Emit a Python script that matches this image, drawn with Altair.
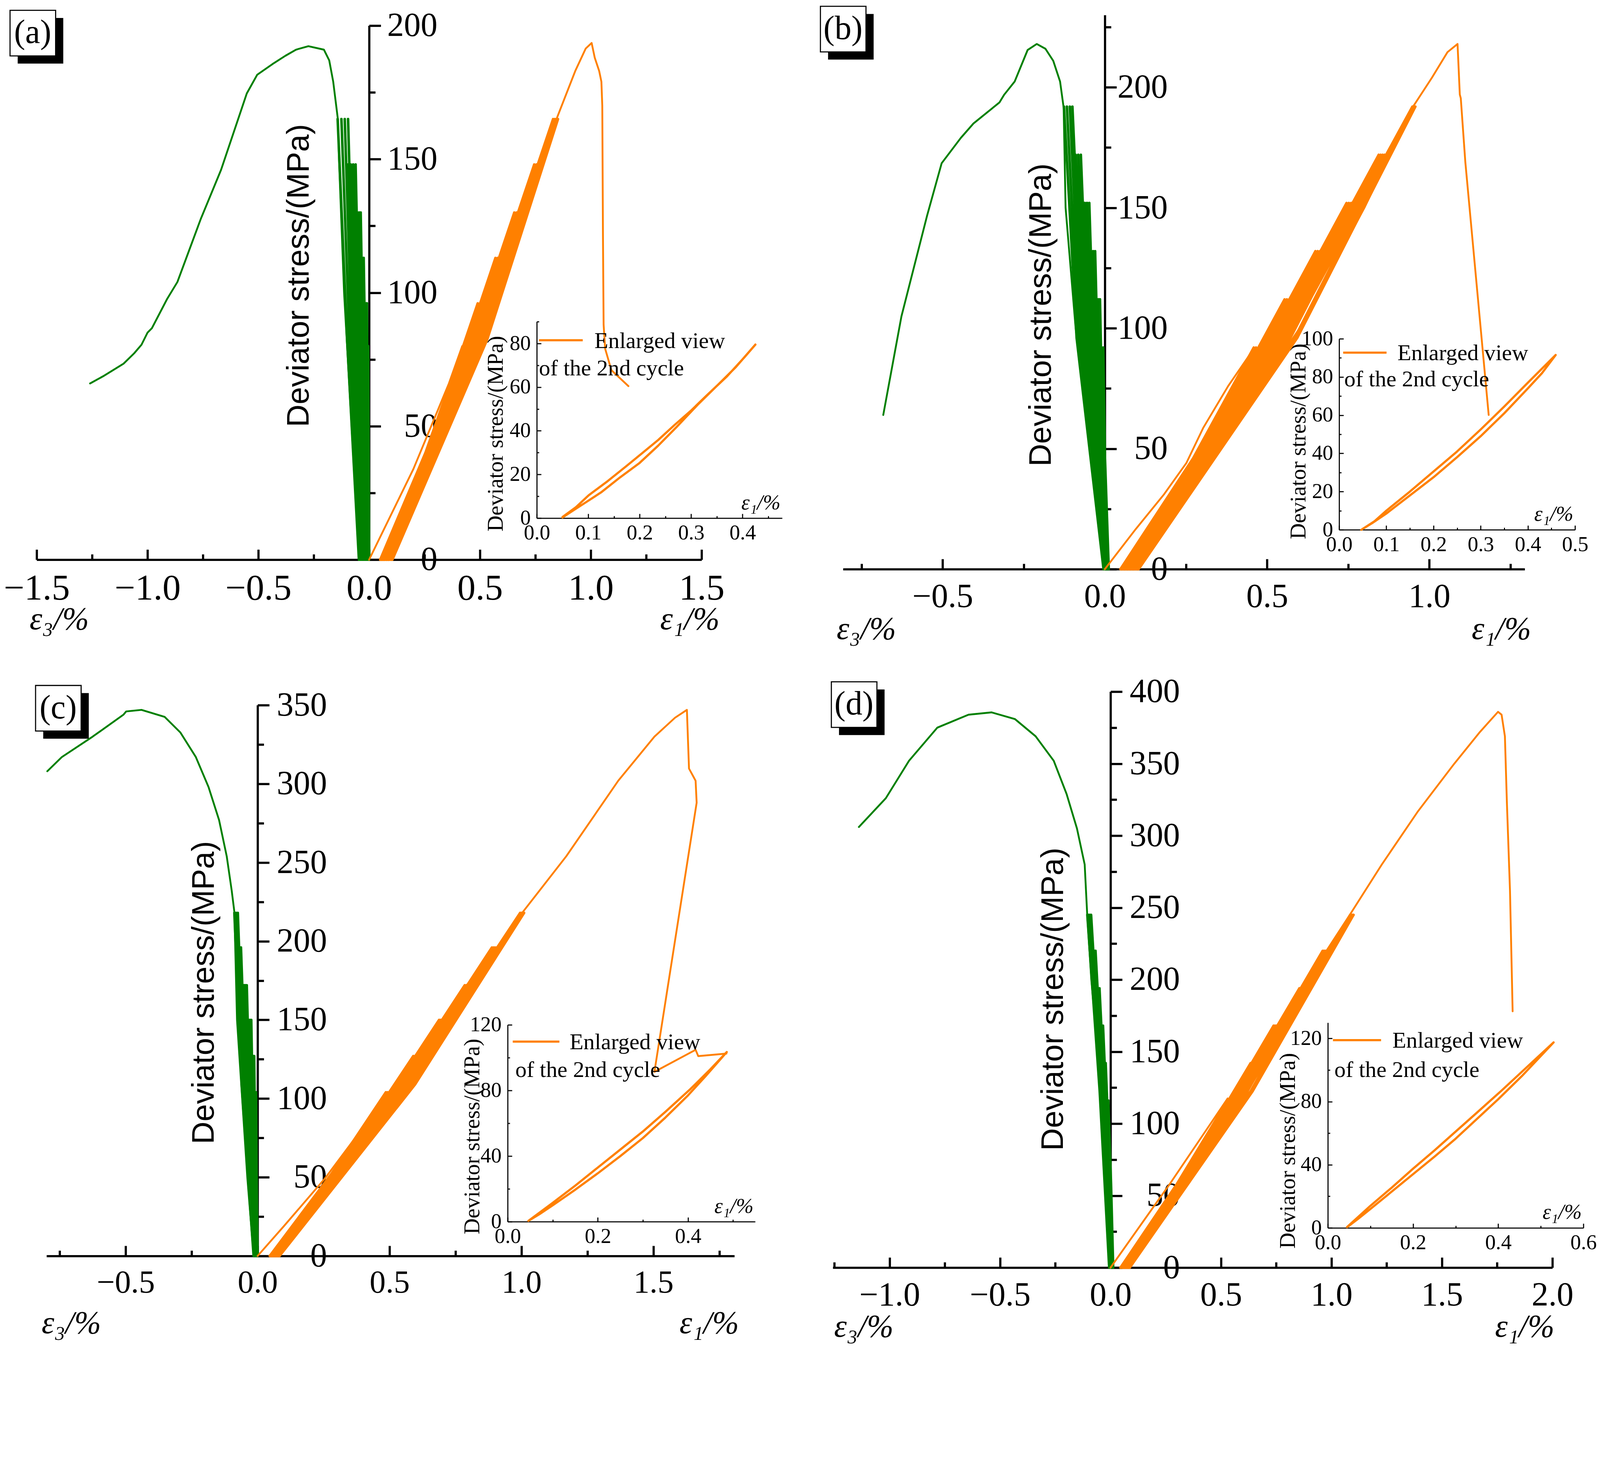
import altair as alt
import pandas as pd

ORANGE = "#FF8000"
GREEN = "#008000"
SERIF = "Liberation Serif"
SANS = "Liberation Sans"
W, H, M = 4372, 3570, 8
YSHIFT = -138  # compensation for the vertical offset observed in the rendered page

# ======================= DATA =======================
# Each cyclic band: per cycle the stage stress S, valley strain V (start), loading mid-point LM,
# peak strain P and unloading mid-point UM (green: one mid-point M).
# ---------- panel (a) ----------
A_S = [80, 80, 80, 80, 96, 96, 96, 96, 113, 113, 113, 113, 130, 130, 130, 130,
       148, 148, 148, 148, 165, 165, 165, 165]
A_O_FIRST_X = [0.0, 0.1, 0.2, 0.29, 0.36, 0.42, 0.266, 0.05]
A_O_FIRST_Y = [0, 17, 34, 52, 66, 80, 40, 0]
A_O_V = [0.050, 0.052, 0.054, 0.056, 0.058, 0.060, 0.062, 0.064, 0.066, 0.068, 0.070, 0.072,
         0.075, 0.077, 0.079, 0.081, 0.084, 0.086, 0.088, 0.090, 0.094, 0.097, 0.100, 0.102]
A_O_P = [0.425, 0.435, 0.445, 0.455, 0.490, 0.500, 0.510, 0.520, 0.570, 0.580, 0.590, 0.600,
         0.655, 0.665, 0.675, 0.685, 0.745, 0.755, 0.765, 0.775, 0.830, 0.838, 0.845, 0.852]
A_O_LM = [0.254, 0.261, 0.267, 0.274, 0.293, 0.300, 0.306, 0.313, 0.341, 0.347, 0.353, 0.360,
          0.391, 0.398, 0.404, 0.410, 0.444, 0.451, 0.457, 0.463, 0.495, 0.501, 0.506, 0.511]
A_O_UM = [0.266, 0.272, 0.279, 0.285, 0.306, 0.313, 0.320, 0.326, 0.356, 0.362, 0.369, 0.376,
          0.409, 0.415, 0.422, 0.428, 0.464, 0.471, 0.477, 0.484, 0.517, 0.523, 0.528, 0.533]
A_O_FINAL_X = [0.105, 0.30, 0.52, 0.70, 0.85, 0.93, 0.977, 1.004, 1.018, 1.038, 1.048, 1.052,
               1.055, 1.058, 1.065, 1.093, 1.17]
A_O_FINAL_Y = [0, 40, 85, 130, 166, 183, 191.4, 193.5, 188, 183, 179, 170, 122, 88, 79, 71, 65]
A_G_V = [0.0, -0.001, -0.002, -0.003, -0.003, -0.004, -0.005, -0.006, -0.001, -0.004, -0.007, -0.010,
         -0.008, -0.012, -0.016, -0.020, -0.018, -0.024, -0.030, -0.035, -0.033, -0.038, -0.042, -0.045]
A_G_P = [-0.004, -0.007, -0.010, -0.013, -0.010, -0.013, -0.016, -0.020, -0.0245, -0.029, -0.033, -0.038,
         -0.038, -0.045, -0.053, -0.061, -0.061, -0.072, -0.083, -0.095, -0.095, -0.110, -0.125, -0.142]
A_G_M = [-0.0022, -0.0044, -0.0065, -0.0086, -0.0069, -0.009, -0.0112, -0.0138, -0.0142, -0.018,
         -0.0216, -0.0257, -0.0248, -0.0305, -0.0367, -0.043, -0.0421, -0.0509, -0.0597, -0.0686,
         -0.0677, -0.0783, -0.0885, -0.0993]
A_G_FINAL_X = [-0.046, -0.079, -0.113, -0.136, -0.141, -0.162, -0.18, -0.204, -0.274, -0.33, -0.378,
               -0.436, -0.505, -0.552, -0.668, -0.76, -0.865, -0.911, -0.98, -1.0, -1.027, -1.06,
               -1.108, -1.2, -1.259]
A_G_FINAL_Y = [0, 50, 100, 150, 165, 179, 187, 191, 192.3, 191, 188.7, 185.6, 181.6, 174.6, 146,
               127.5, 104, 97.7, 86.7, 85, 80.5, 77.3, 73.4, 68.7, 66]
A_IN_X = [0.05, 0.076, 0.101, 0.138, 0.174, 0.203, 0.236, 0.268, 0.301, 0.329, 0.37, 0.403, 0.425,
          0.387, 0.354, 0.313, 0.272, 0.236, 0.199, 0.162, 0.125, 0.097, 0.072, 0.05]
A_IN_Y = [0.5, 5, 10.5, 17, 23.8, 29.4, 35.8, 42.7, 49.5, 55.9, 65, 73.5, 79.5,
          69.2, 61.5, 52, 41.8, 33.2, 25.1, 18.7, 11.8, 7.5, 3.7, 0.3]

# ---------- panel (b) ----------
B_S = [92, 92, 92, 92, 112, 112, 112, 112, 132, 132, 132, 132, 152, 152, 152, 152,
       172, 172, 172, 172, 192, 192, 192, 192]
B_O_FIRST_X = [0.0, 0.095, 0.182, 0.251, 0.303, 0.38, 0.459, 0.284, 0.048]
B_O_FIRST_Y = [0, 16.6, 31, 44, 58.6, 76, 91.5, 46, 0]
B_O_V = [0.048, 0.050, 0.052, 0.054, 0.057, 0.059, 0.061, 0.063, 0.066, 0.068, 0.070, 0.072,
         0.075, 0.077, 0.079, 0.081, 0.084, 0.086, 0.088, 0.090, 0.093, 0.096, 0.099, 0.101]
B_O_P = [0.459, 0.466, 0.473, 0.480, 0.554, 0.561, 0.568, 0.575, 0.649, 0.656, 0.663, 0.670,
         0.745, 0.752, 0.759, 0.766, 0.844, 0.850, 0.856, 0.862, 0.948, 0.951, 0.954, 0.957]
B_O_LM = [0.272, 0.277, 0.281, 0.286, 0.328, 0.333, 0.337, 0.342, 0.384, 0.389, 0.393, 0.398,
          0.440, 0.445, 0.450, 0.454, 0.498, 0.502, 0.507, 0.511, 0.559, 0.562, 0.565, 0.568]
B_O_UM = [0.284, 0.289, 0.294, 0.299, 0.343, 0.348, 0.353, 0.357, 0.401, 0.406, 0.411, 0.416,
          0.460, 0.465, 0.470, 0.475, 0.521, 0.525, 0.530, 0.534, 0.585, 0.588, 0.591, 0.593]
B_O_FINAL_X = [0.104, 0.35, 0.60, 0.80, 0.948, 1.008, 1.056, 1.087, 1.094, 1.097, 1.111, 1.183]
B_O_FINAL_Y = [0, 50, 100, 150, 191.6, 204, 214.6, 218, 197, 195.5, 169, 64]
B_G_V = [0.012, 0.011, 0.010, 0.009, 0.010, 0.009, 0.008, 0.007, 0.008, 0.007, 0.006, 0.005,
         0.006, 0.005, 0.004, 0.003, 0.004, 0.002, 0.000, -0.001, 0.000, -0.002, -0.003, -0.004]
B_G_P = [-0.005, -0.010, -0.015, -0.020, -0.015, -0.020, -0.025, -0.030, -0.030, -0.036, -0.042, -0.048,
         -0.048, -0.055, -0.062, -0.074, -0.074, -0.082, -0.090, -0.100, -0.100, -0.108, -0.117, -0.126]
B_G_M = [0.0004, -0.0033, -0.007, -0.0107, -0.007, -0.0107, -0.0144, -0.0182, -0.0178, -0.0222,
         -0.0266, -0.031, -0.0307, -0.0358, -0.0409, -0.0494, -0.049, -0.0551, -0.0612, -0.0683,
         -0.068, -0.0741, -0.0805, -0.087]
B_G_FINAL_X = [-0.004, -0.045, -0.09, -0.121, -0.127, -0.138, -0.159, -0.183, -0.21, -0.238, -0.278,
               -0.31, -0.325, -0.405, -0.444, -0.503, -0.548, -0.627, -0.683]
B_G_FINAL_Y = [0, 50, 100, 150, 191.6, 202.4, 211, 216, 218, 215.5, 202.4, 197, 193.7, 185, 179,
               168.5, 146.7, 104.9, 64]
B_IN_X = [0.047, 0.075, 0.1, 0.15, 0.2, 0.25, 0.3, 0.35, 0.4, 0.459,
          0.43, 0.4, 0.35, 0.3, 0.25, 0.2, 0.15, 0.1, 0.07, 0.05]
B_IN_Y = [0, 4.5, 10, 20, 30.5, 41, 52.5, 64.5, 77, 91.5,
          82, 74, 61, 49, 38, 27.5, 18, 8.5, 3.5, 0.5]

# ---------- panel (c) ----------
C_S = [104, 104, 104, 104, 127, 127, 127, 127, 150, 150, 150, 150, 172, 172, 172, 172,
       196, 196, 196, 196, 218, 218, 218, 218]
C_O_FIRST_X = [0.0, 0.1, 0.254, 0.37, 0.486, 0.29, 0.046]
C_O_FIRST_Y = [0, 19, 49, 75, 103.4, 52, 0]
C_O_V = [0.046, 0.048, 0.050, 0.052, 0.054, 0.056, 0.058, 0.060, 0.062, 0.064, 0.066, 0.068,
         0.069, 0.071, 0.073, 0.074, 0.075, 0.076, 0.077, 0.078, 0.079, 0.080, 0.081, 0.082]
C_O_P = [0.486, 0.492, 0.498, 0.504, 0.590, 0.596, 0.602, 0.608, 0.688, 0.694, 0.700, 0.706,
         0.785, 0.791, 0.797, 0.803, 0.888, 0.894, 0.900, 0.906, 0.995, 1.000, 1.005, 1.010]
C_O_LM = [0.279, 0.283, 0.287, 0.292, 0.338, 0.342, 0.346, 0.350, 0.394, 0.398, 0.402, 0.406,
          0.449, 0.453, 0.457, 0.460, 0.506, 0.510, 0.513, 0.517, 0.565, 0.568, 0.571, 0.574]
C_O_UM = [0.290, 0.294, 0.299, 0.303, 0.352, 0.356, 0.360, 0.364, 0.409, 0.414, 0.418, 0.422,
          0.466, 0.471, 0.475, 0.479, 0.526, 0.530, 0.534, 0.538, 0.587, 0.591, 0.594, 0.597]
C_O_FINAL_X = [0.083, 0.30, 0.55, 0.78, 1.005, 1.17, 1.367, 1.504, 1.582, 1.627, 1.635, 1.66,
               1.664, 1.504, 1.66, 1.67, 1.777]
C_O_FINAL_Y = [0, 50, 108, 165, 218.5, 254, 302, 330, 342, 347, 309.7, 302, 288, 117, 131, 127, 128.6]
C_G_V = [0.0, -0.001, -0.001, -0.002, -0.002, -0.003, -0.003, -0.004, -0.004, -0.005, -0.006, -0.007,
         -0.007, -0.008, -0.009, -0.010, -0.010, -0.011, -0.012, -0.013, -0.013, -0.014, -0.014, -0.015]
C_G_P = [-0.006, -0.008, -0.010, -0.012, -0.013, -0.016, -0.019, -0.022, -0.024, -0.028, -0.032, -0.036,
         -0.041, -0.046, -0.051, -0.056, -0.063, -0.067, -0.071, -0.075, -0.075, -0.080, -0.084, -0.088]
C_G_M = [-0.0037, -0.0053, -0.0066, -0.0082, -0.0088, -0.0111, -0.0129, -0.0152, -0.0164, -0.0193,
         -0.0221, -0.025, -0.0281, -0.0316, -0.035, -0.0385, -0.0429, -0.0457, -0.0486, -0.0514,
         -0.0514, -0.0549, -0.0574, -0.0603]
C_G_FINAL_X = [-0.015, -0.039, -0.0585, -0.078, -0.088, -0.098, -0.117, -0.146, -0.186, -0.234,
               -0.293, -0.352, -0.44, -0.498, -0.508, -0.625, -0.742, -0.797]
C_G_FINAL_Y = [0, 50, 100, 150, 218.6, 232, 254, 277, 298, 317, 332.7, 342.5, 347, 346, 344, 330, 317, 308]
C_IN_X = [0.046, 0.1, 0.15, 0.2, 0.25, 0.3, 0.35, 0.406, 0.45, 0.486,
          0.44, 0.40, 0.35, 0.30, 0.25, 0.20, 0.15, 0.10, 0.07, 0.046]
C_IN_Y = [0.5, 11.5, 22, 33, 44, 55, 67, 81, 93, 103.4,
          89, 77, 63.5, 51, 40, 29.5, 19.5, 10, 4.5, 0.5]

# ---------- panel (d) ----------
D_S = [116, 116, 116, 116, 142, 142, 142, 142, 168, 168, 168, 168, 194, 194, 194, 194,
       220, 220, 220, 220, 245, 245, 245, 245]
D_O_FIRST_X = [0.0, 0.1, 0.2, 0.267, 0.4, 0.53, 0.312, 0.045]
D_O_FIRST_Y = [0, 21.7, 43.4, 57.8, 88, 117.5, 58, 0]
D_O_V = [0.045, 0.047, 0.049, 0.051, 0.053, 0.055, 0.057, 0.059, 0.061, 0.063, 0.065, 0.067,
         0.069, 0.071, 0.073, 0.075, 0.077, 0.078, 0.079, 0.080, 0.082, 0.083, 0.084, 0.085]
D_O_P = [0.530, 0.537, 0.544, 0.551, 0.634, 0.641, 0.648, 0.655, 0.738, 0.745, 0.752, 0.759,
         0.855, 0.861, 0.867, 0.873, 0.960, 0.966, 0.972, 0.978, 1.085, 1.090, 1.095, 1.100]
D_O_LM = [0.300, 0.304, 0.309, 0.314, 0.358, 0.363, 0.367, 0.372, 0.416, 0.421, 0.426, 0.430,
          0.482, 0.486, 0.490, 0.494, 0.541, 0.544, 0.548, 0.552, 0.609, 0.612, 0.615, 0.618]
D_O_UM = [0.312, 0.317, 0.321, 0.326, 0.373, 0.377, 0.382, 0.387, 0.433, 0.438, 0.443, 0.448,
          0.501, 0.506, 0.510, 0.514, 0.563, 0.566, 0.570, 0.574, 0.634, 0.637, 0.640, 0.643]
D_O_FINAL_X = [0.087, 0.33, 0.60, 0.85, 1.083, 1.228, 1.392, 1.556, 1.672, 1.754, 1.77, 1.785,
               1.794, 1.808, 1.82]
D_O_FINAL_Y = [0, 60, 125, 190, 245, 280, 317, 350, 372, 386, 384, 369, 323, 262, 178]
D_G_V = [0.012, 0.011, 0.010, 0.009, 0.010, 0.009, 0.008, 0.007, 0.008, 0.007, 0.006, 0.005,
         0.005, 0.004, 0.003, 0.002, 0.002, 0.001, 0.000, -0.001, -0.002, -0.003, -0.004, -0.005]
D_G_P = [-0.010, -0.014, -0.018, -0.022, -0.022, -0.026, -0.030, -0.034, -0.034, -0.039, -0.044, -0.050,
         -0.050, -0.056, -0.062, -0.068, -0.068, -0.074, -0.080, -0.087, -0.088, -0.094, -0.100, -0.105]
D_G_M = [0.0023, 0.0, -0.0023, -0.0046, -0.0041, -0.0064, -0.0087, -0.011, -0.0105, -0.0132,
         -0.016, -0.0192, -0.0192, -0.0224, -0.0256, -0.0288, -0.0288, -0.032, -0.0352, -0.0388,
         -0.0398, -0.043, -0.0462, -0.049]
D_G_FINAL_X = [-0.006, -0.017, -0.035, -0.058, -0.087, -0.105, -0.117, -0.152, -0.199, -0.257,
               -0.339, -0.433, -0.538, -0.643, -0.784, -0.912, -1.017, -1.139]
D_G_FINAL_Y = [0, 50, 100, 150, 200, 243.5, 280, 305, 329, 352, 369, 381, 385.6, 384, 375, 352, 326, 306]
D_IN_X = [0.045, 0.1, 0.15, 0.2, 0.25, 0.3, 0.35, 0.406, 0.46, 0.53,
          0.49, 0.455, 0.40, 0.35, 0.30, 0.25, 0.20, 0.15, 0.10, 0.07, 0.048]
D_IN_Y = [0.5, 14, 25.5, 37.5, 49, 61, 73, 86.5, 100, 117.5,
          106, 96, 81.5, 69, 56.5, 45, 34, 23, 12, 5.5, 1]

# ---------- tick values / labels ----------
A_XTICKS = [-1.5, -1.25, -1.0, -0.75, -0.5, -0.25, 0.0, 0.25, 0.5, 0.75, 1.0, 1.25, 1.5]
A_XLABELS = [-1.5, -1.0, -0.5, 0.0, 0.5, 1.0, 1.5]
A_YTICKS = [0, 25, 50, 75, 100, 125, 150, 175, 200]
A_YLABELS = [0, 50, 100, 150, 200]
B_XTICKS = [-0.75, -0.5, -0.25, 0.0, 0.25, 0.5, 0.75, 1.0, 1.25]
B_XLABELS = [-0.5, 0.0, 0.5, 1.0]
B_YTICKS = [0, 25, 50, 75, 100, 125, 150, 175, 200, 225]
B_YLABELS = [0, 50, 100, 150, 200]
C_XTICKS = [-0.75, -0.5, -0.25, 0.0, 0.25, 0.5, 0.75, 1.0, 1.25, 1.5, 1.75]
C_XLABELS = [-0.5, 0.0, 0.5, 1.0, 1.5]
C_YTICKS = [0, 25, 50, 75, 100, 125, 150, 175, 200, 225, 250, 275, 300, 325, 350]
C_YLABELS = [0, 50, 100, 150, 200, 250, 300, 350]
D_XTICKS = [-1.25, -1.0, -0.75, -0.5, -0.25, 0.0, 0.25, 0.5, 0.75, 1.0, 1.25, 1.5, 1.75, 2.0]
D_XLABELS = [-1.0, -0.5, 0.0, 0.5, 1.0, 1.5, 2.0]
D_YTICKS = [0, 25, 50, 75, 100, 125, 150, 175, 200, 225, 250, 275, 300, 325, 350, 375, 400]
D_YLABELS = [0, 50, 100, 150, 200, 250, 300, 350, 400]

A_IXTICKS = [0.0, 0.05, 0.1, 0.15, 0.2, 0.25, 0.3, 0.35, 0.4, 0.45]
A_IXLABELS = [0.0, 0.1, 0.2, 0.3, 0.4]
A_IYTICKS = [0, 10, 20, 30, 40, 50, 60, 70, 80, 90]
A_IYLABELS = [0, 20, 40, 60, 80]
B_IXTICKS = [0.0, 0.05, 0.1, 0.15, 0.2, 0.25, 0.3, 0.35, 0.4, 0.45, 0.5]
B_IXLABELS = [0.0, 0.1, 0.2, 0.3, 0.4, 0.5]
B_IYTICKS = [0, 10, 20, 30, 40, 50, 60, 70, 80, 90, 100]
B_IYLABELS = [0, 20, 40, 60, 80, 100]
C_IXTICKS = [0.0, 0.1, 0.2, 0.3, 0.4, 0.5]
C_IXLABELS = [0.0, 0.2, 0.4]
C_IYTICKS = [0, 20, 40, 60, 80, 100, 120]
C_IYLABELS = [0, 40, 80, 120]
D_IXTICKS = [0.0, 0.1, 0.2, 0.3, 0.4, 0.5, 0.6]
D_IXLABELS = [0.0, 0.2, 0.4, 0.6]
D_IYTICKS = [0, 20, 40, 60, 80, 100, 120]
D_IYLABELS = [0, 40, 80, 120]

# ======================= LAYOUT (pixel positions in the 4391x3735 page) =======================
TEN = "abs(datum.value * 10 - round(datum.value * 10)) < 1e-6"
FIVE = "abs(datum.value * 5 - round(datum.value * 5)) < 1e-6"
HALF = "abs(datum.value * 2 - round(datum.value * 2)) < 1e-6"

PANELS = [
    dict(label="(a)", box=(100, 1924, 80, 1545), xdom=[-1.5, 1.5], ydom=[0, 200],
         inset=(1472, 2145, 892, 1431), ixdom=[0, 0.477], iydom=[0, 90],
         lab=(27, 38), e3x=80, e1x=1810, ety=165, xfs=100, ylpad=187, title=(819, 765),
         ititle=(-112, 1199), leg=(6, 126, 51, 158, 6, 128), ixmaj=TEN, iymaj="datum.value % 20 === 0",
         xt=A_XTICKS, xl=A_XLABELS, yt=A_YTICKS, yl=A_YLABELS,
         ixt=A_IXTICKS, ixl=A_IXLABELS, iyt=A_IYTICKS, iyl=A_IYLABELS,
         S=A_S, OFX=A_O_FIRST_X, OFY=A_O_FIRST_Y, OV=A_O_V, OLM=A_O_LM, OP=A_O_P, OUM=A_O_UM,
         OX=A_O_FINAL_X, OY=A_O_FINAL_Y, GV=A_G_V, GM=A_G_M, GP=A_G_P,
         GX=A_G_FINAL_X, GY=A_G_FINAL_Y, IX=A_IN_X, IY=A_IN_Y),
    dict(label="(b)", box=(2312, 4182, 51, 1571), xdom=[-0.807, 1.294], ydom=[0, 230],
         inset=(3673, 4320, 939, 1463), ixdom=[0, 0.5], iydom=[0, 100],
         lab=(2250, 27), e3x=2294, e1x=4036, ety=165, xfs=92, ylpad=172, title=(2855, 873),
         ititle=(-111, 1220), leg=(11, 130, 38, 160, 14, 111), ixmaj=TEN, iymaj="datum.value % 20 === 0",
         xt=B_XTICKS, xl=B_XLABELS, yt=B_YTICKS, yl=B_YLABELS,
         ixt=B_IXTICKS, ixl=B_IXLABELS, iyt=B_IYTICKS, iyl=B_IYLABELS,
         S=B_S, OFX=B_O_FIRST_X, OFY=B_O_FIRST_Y, OV=B_O_V, OLM=B_O_LM, OP=B_O_P, OUM=B_O_UM,
         OX=B_O_FINAL_X, OY=B_O_FINAL_Y, GV=B_G_V, GM=B_G_M, GP=B_G_P,
         GX=B_G_FINAL_X, GY=B_G_FINAL_Y, IX=B_IN_X, IY=B_IN_Y),
    dict(label="(c)", box=(127, 2014, 1944, 3455), xdom=[-0.8, 1.807], ydom=[0, 350],
         inset=(1392, 2071, 2821, 3361), ixdom=[0, 0.549], iydom=[0, 120],
         lab=(97, 1890), e3x=113, e1x=1863, ety=185, xfs=88, ylpad=190, title=(559, 2732),
         ititle=(-96, 3127), leg=(14, 142, 46, 170, 21, 124), ixmaj=FIVE, iymaj="datum.value % 40 === 0",
         xt=C_XTICKS, xl=C_XLABELS, yt=C_YTICKS, yl=C_YLABELS,
         ixt=C_IXTICKS, ixl=C_IXLABELS, iyt=C_IYTICKS, iyl=C_IYLABELS,
         S=C_S, OFX=C_O_FIRST_X, OFY=C_O_FIRST_Y, OV=C_O_V, OLM=C_O_LM, OP=C_O_P, OUM=C_O_UM,
         OX=C_O_FINAL_X, OY=C_O_FINAL_Y, GV=C_G_V, GM=C_G_M, GP=C_G_P,
         GX=C_G_FINAL_X, GY=C_G_FINAL_Y, IX=C_IN_X, IY=C_IN_Y),
    dict(label="(d)", box=(2284, 4258, 1907, 3487), xdom=[-1.257, 2.0], ydom=[0, 400],
         inset=(3642, 4343, 2815, 3378), ixdom=[0, 0.6], iydom=[0, 130],
         lab=(2280, 1880), e3x=2287, e1x=4100, ety=163, xfs=92, ylpad=190, title=(2889, 2750),
         ititle=(-109, 3166), leg=(14, 146, 48, 177, 18, 130), ixmaj=FIVE, iymaj="datum.value % 40 === 0",
         xt=D_XTICKS, xl=D_XLABELS, yt=D_YTICKS, yl=D_YLABELS,
         ixt=D_IXTICKS, ixl=D_IXLABELS, iyt=D_IYTICKS, iyl=D_IYLABELS,
         S=D_S, OFX=D_O_FIRST_X, OFY=D_O_FIRST_Y, OV=D_O_V, OLM=D_O_LM, OP=D_O_P, OUM=D_O_UM,
         OX=D_O_FINAL_X, OY=D_O_FINAL_Y, GV=D_G_V, GM=D_G_M, GP=D_G_P,
         GX=D_G_FINAL_X, GY=D_G_FINAL_Y, IX=D_IN_X, IY=D_IN_Y),
]


def cycles_df(S, V, LM, P, UM, v_end, start=None):
    xs, ys = ([start[0]], [start[1]]) if start else ([], [])
    for s, v, lm, p, um in zip(S, V, LM, P, UM):
        xs += [v, lm, p, um]
        ys += [0, s / 2, s, s / 2]
    xs.append(v_end)
    ys.append(0)
    return pd.DataFrame({"x": xs, "y": ys, "i": list(range(len(xs)))})


def path_df(xs, ys):
    return pd.DataFrame({"x": list(xs), "y": list(ys), "i": list(range(len(xs)))})


def tsize(test, major, minor):
    return {"condition": {"test": test, "value": major}, "value": minor}


ONE = pd.DataFrame({"k": [0]})


def vtext(text, x, y, size, font=SERIF, align="left", style="normal"):
    return alt.Chart(ONE).mark_text(text=text, font=font, fontSize=size, align=align,
                                    baseline="middle", color="black", fontStyle=style).encode(
        x=alt.value(x), y=alt.value(y))


def line(df, color, width, xs, ys, xaxis=None, yaxis=None):
    return alt.Chart(df).mark_line(color=color, strokeWidth=width, strokeJoin="round",
                                   strokeCap="round").encode(
        x=alt.X("x:Q", scale=xs, axis=xaxis),
        y=alt.Y("y:Q", scale=ys, axis=yaxis),
        order="i:Q")


def panel_layers(P):
    L, R = P["box"][0] - M, P["box"][1] - M
    T, B = P["box"][2] - M + YSHIFT, P["box"][3] - M + YSHIFT
    xs = alt.Scale(domain=P["xdom"], range=[L, R], nice=False, zero=False)
    ys = alt.Scale(domain=P["ydom"], range=[B, T], nice=False, zero=False)
    x0 = L + (0 - P["xdom"][0]) / (P["xdom"][1] - P["xdom"][0]) * (R - L)

    g_cyc = cycles_df(P["S"], P["GV"], P["GM"], P["GP"], P["GM"], P["GX"][0], start=(0.0, 0.0))
    g_fin = path_df(P["GX"], P["GY"])
    o_first = path_df(P["OFX"], P["OFY"])
    o_cyc = cycles_df(P["S"], P["OV"], P["OLM"], P["OP"], P["OUM"], P["OX"][0])
    o_fin = path_df(P["OX"], P["OY"])

    gx_axis = alt.Axis(orient="bottom", offset=B - H, values=P["xl"], format=".1f", ticks=False,
                       domain=False, labelFont=SERIF, labelFontSize=P["xfs"], labelPadding=30,
                       labelFlush=False, labelOverlap=False, labelLimit=0, labelColor="black",
                       title="ε₃/%", titleFont=SERIF, titleFontSize=88, titleFontStyle="italic",
                       titleFontWeight="normal", titleX=P["e3x"] - M, titleY=P["ety"],
                       titleAlign="left", titleBaseline="middle", titleAngle=0, titleColor="black",
                       titleLimit=0)
    gy_axis = alt.Axis(orient="right", offset=x0 - W, values=P["yl"], format="d", ticks=False,
                       domain=False, labelFont=SERIF, labelFontSize=92, labelPadding=P["ylpad"],
                       labelFlush=False, labelOverlap=False, labelLimit=0, labelColor="black",
                       labelAlign="right", labelBaseline="middle",
                       title="Deviator stress/(MPa)", titleFont=SANS, titleFontSize=86,
                       titleFontWeight="normal", titleAngle=270, titleX=P["title"][0] - M - x0,
                       titleY=P["title"][1] - M + YSHIFT, titleAlign="center", titleBaseline="middle",
                       titleColor="black", titleLimit=0)
    ox_axis = alt.Axis(orient="top", offset=-B, values=P["xt"], labels=False, ticks=True,
                       tickSize=tsize(HALF, 28, 15), tickWidth=6, tickColor="black",
                       domain=True, domainWidth=6, domainColor="black",
                       title="ε₁/%", titleFont=SERIF, titleFontSize=88, titleFontStyle="italic",
                       titleFontWeight="normal", titleX=P["e1x"] - M, titleY=P["ety"],
                       titleAlign="left", titleBaseline="middle", titleAngle=0, titleColor="black",
                       titleLimit=0)
    oy_axis = alt.Axis(orient="right", offset=x0 - W, values=P["yt"], labels=False, ticks=True,
                       tickSize=tsize("datum.value % 50 === 0", 32, 17), tickWidth=6, tickColor="black",
                       domain=True, domainWidth=6, domainColor="black", title=None)

    layers = [
        line(g_fin, GREEN, 5, xs, ys, gx_axis, gy_axis),
        line(g_cyc, GREEN, 7, xs, ys),
        line(o_first, ORANGE, 5, xs, ys, ox_axis, oy_axis),
        line(o_cyc, ORANGE, 7, xs, ys),
        line(o_fin, ORANGE, 5, xs, ys),
    ]

    # inset
    IL, IR = P["inset"][0] - M, P["inset"][1] - M
    IT, IB = P["inset"][2] - M + YSHIFT, P["inset"][3] - M + YSHIFT
    ixs = alt.Scale(domain=P["ixdom"], range=[IL, IR], nice=False, zero=False)
    iys = alt.Scale(domain=P["iydom"], range=[IB, IT], nice=False, zero=False)
    in_df = path_df(P["IX"], P["IY"])
    ix_tick = alt.Axis(orient="top", offset=-IB, values=P["ixt"], labels=False, ticks=True,
                       tickSize=tsize(P["ixmaj"], 12, 6), tickWidth=3, tickColor="black",
                       domain=True, domainWidth=3, domainColor="black", title=None)
    iy_tick = alt.Axis(orient="right", offset=IL - W, values=P["iyt"], labels=False, ticks=True,
                       tickSize=tsize(P["iymaj"], 12, 6), tickWidth=3, tickColor="black",
                       domain=True, domainWidth=3, domainColor="black", title=None)
    ix_lab = alt.Axis(orient="bottom", offset=IB - H, values=P["ixl"], format=".1f", ticks=False,
                      domain=False, labelFont=SERIF, labelFontSize=58, labelPadding=12,
                      labelFlush=False, labelOverlap=False, labelLimit=0, labelColor="black",
                      title="ε₁/%", titleFont=SERIF, titleFontSize=58, titleFontStyle="italic",
                      titleFontWeight="normal", titleX=IR - 5, titleY=-42, titleAlign="right",
                      titleBaseline="middle", titleAngle=0, titleColor="black")
    iy_lab = alt.Axis(orient="left", offset=-IL, values=P["iyl"], format="d", ticks=False,
                      domain=False, labelFont=SERIF, labelFontSize=58, labelPadding=17,
                      labelFlush=False, labelOverlap=False, labelLimit=0, labelColor="black",
                      labelAlign="right", labelBaseline="middle",
                      title="Deviator stress/(MPa)", titleFont=SERIF, titleFontSize=61,
                      titleFontWeight="normal", titleAngle=270, titleX=P["ititle"][0],
                      titleY=P["ititle"][1] - M + YSHIFT, titleAlign="center", titleBaseline="middle",
                      titleColor="black", titleLimit=0)
    layers.append(line(in_df, ORANGE, 6, ixs, iys, ix_tick, iy_tick))
    layers.append(alt.Chart(in_df).mark_point(opacity=0, size=1).encode(
        x=alt.X("x:Q", scale=ixs, axis=ix_lab),
        y=alt.Y("y:Q", scale=iys, axis=iy_lab)))

    lx0, lx1, ly, t1x, t2x, t2y = P["leg"]
    layers.append(alt.Chart(ONE).mark_rule(color=ORANGE, strokeWidth=6).encode(
        x=alt.value(IL + lx0), x2=alt.value(IL + lx1), y=alt.value(IT + ly)))
    layers.append(vtext("Enlarged view", IL + t1x, IT + ly + 2, 62))
    layers.append(vtext("of the 2nd cycle", IL + t2x, IT + t2y, 62))

    bx, by = P["lab"][0] - M, P["lab"][1] - M + YSHIFT
    layers.append(alt.Chart(ONE).mark_rect(color="black").encode(
        x=alt.value(bx + 21), x2=alt.value(bx + 146), y=alt.value(by + 21), y2=alt.value(by + 146)))
    layers.append(alt.Chart(ONE).mark_rect(fill="white", stroke="black", strokeWidth=3).encode(
        x=alt.value(bx), x2=alt.value(bx + 125), y=alt.value(by), y2=alt.value(by + 125)))
    layers.append(vtext(P["label"], bx + 62, by + 62, 92, align="center"))
    return layers


layers = []
for P in PANELS:
    layers += panel_layers(P)

chart = alt.layer(*layers).resolve_scale(x="independent", y="independent").properties(
    width=W, height=H, autosize=alt.AutoSizeParams(type="none"), padding=0
).configure_view(stroke=None).configure_axis(grid=False)

chart.save("out.html", embed_options={"renderer": "svg", "actions": False})
